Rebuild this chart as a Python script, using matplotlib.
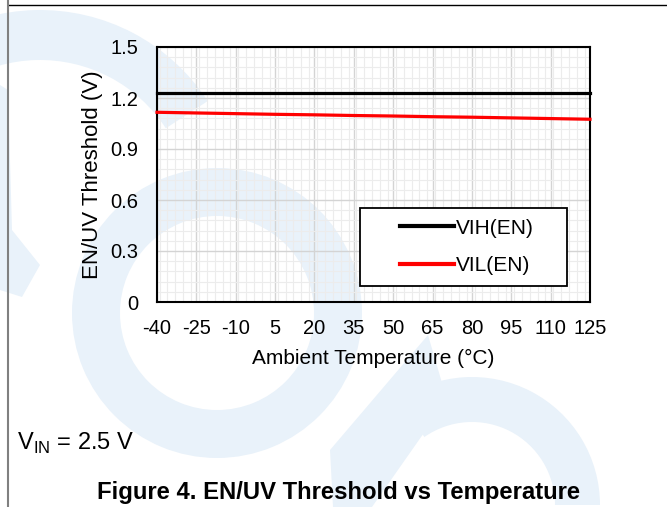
import matplotlib.pyplot as plt
import numpy as np
from matplotlib.patches import Wedge, Polygon, Rectangle
from matplotlib.ticker import MultipleLocator

# Temperature sweep (deg C) and EN/UV thresholds (V)
temp_c = [-40, -25, -10, 5, 20, 35, 50, 65, 80, 95, 110, 125]
vih_en = [1.228, 1.228, 1.228, 1.228, 1.228, 1.228, 1.228, 1.228, 1.228, 1.228, 1.228, 1.228]
vil_en = [1.116, 1.112, 1.108, 1.104, 1.101, 1.097, 1.094, 1.090, 1.087, 1.083, 1.079, 1.075]

x_ticks = [-40, -25, -10, 5, 20, 35, 50, 65, 80, 95, 110, 125]
y_ticks = [0, 0.3, 0.6, 0.9, 1.2, 1.5]
y_tick_labels = ["0", "0.3", "0.6", "0.9", "1.2", "1.5"]

plt.rcParams['font.family'] = ['Liberation Sans', 'DejaVu Sans']

W, H = 667, 507
fig = plt.figure(figsize=(W / 100, H / 100), dpi=100)

# background layer in pixel units (y down) for the page decoration
bg = fig.add_axes([0, 0, 1, 1], zorder=0)
bg.set_xlim(0, W)
bg.set_ylim(H, 0)
bg.axis('off')
wm = '#e9f2fa'
bg.add_patch(Wedge((40, 210), 200, 210, 327, width=50, color=wm, lw=0))
bg.add_patch(Polygon([[0, 85], [8, 90], [12, 230], [40, 265], [22, 297], [0, 290]], color=wm, lw=0))
bg.add_patch(Wedge((217, 313), 145, 0, 360, width=48, color=wm, lw=0))
bg.add_patch(Polygon([[330, 450], [333, 507], [372, 507], [447, 400], [428, 335]], color=wm, lw=0))
bg.add_patch(Wedge((472, 505), 128, 235, 360, width=45, color=wm, lw=0))
bg.plot([8, W], [5, 5], color='black', lw=1.0)
bg.plot([7.5, 7.5], [0, H], color='#808080', lw=1.5)

ax = fig.add_axes([157 / W, 1 - 302 / H, 433 / W, 255 / H], zorder=1)
ax.patch.set_alpha(0)

ax.plot(temp_c, vih_en, color='black', lw=2.3, label='VIH(EN)', zorder=3, clip_on=False)
ax.plot(temp_c, vil_en, color='#ff0000', lw=2.3, label='VIL(EN)', zorder=3, clip_on=False)

ax.set_xlim(-40, 125)
ax.set_ylim(0, 1.5)
ax.set_xticks(x_ticks)
ax.set_xticklabels([str(t) for t in x_ticks], fontsize=14.5)
ax.set_yticks(y_ticks)
ax.set_yticklabels(y_tick_labels, fontsize=14.5)
ax.xaxis.set_minor_locator(MultipleLocator(3))
ax.yaxis.set_minor_locator(MultipleLocator(0.06))
ax.tick_params(which='both', length=0)
ax.tick_params(axis='x', pad=12)
ax.tick_params(axis='y', pad=13.5)
ax.grid(which='minor', color='#ececec', lw=0.8)
ax.grid(which='major', color='#d4d4d4', lw=1.0)
ax.set_axisbelow(True)
for s in ax.spines.values():
    s.set_linewidth(1.5)

ax.set_xlabel('Ambient Temperature (°C)', fontsize=15, labelpad=8)
ax.set_ylabel('EN/UV Threshold (V)', fontsize=16, labelpad=5)

# legend box, then the entries inside it
ax.add_patch(Rectangle((0.469, 0.063), 0.478, 0.306, transform=ax.transAxes,
                       facecolor='white', edgecolor='black', lw=1.3, zorder=4))
leg = ax.legend(loc='center left', bbox_to_anchor=((400 - 157) / 433, (302 - 247) / 255),
                frameon=False, handlelength=2.6, labelspacing=0.9, handletextpad=0.1,
                borderpad=0, borderaxespad=0, prop={'size': 15})
leg.set_zorder(5)
for h in leg.get_lines():
    h.set_linewidth(3)

fig.text(17 / W, 1 - 443 / H, r'V$_{\mathregular{IN}}$ = 2.5 V', fontsize=17, va='center', ha='left')
fig.text(339 / W, 1 - 492 / H, 'Figure 4. EN/UV Threshold vs Temperature', fontsize=17.2,
         fontweight='bold', va='center', ha='center')

fig.savefig('out.png', dpi=100)
